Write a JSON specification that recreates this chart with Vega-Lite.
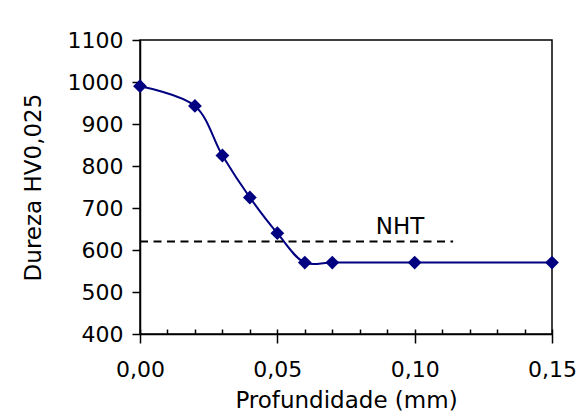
{
  "$schema": "https://vega.github.io/schema/vega-lite/v6.json",
  "width": 412,
  "height": 294,
  "autosize": {"type": "none"},
  "padding": {"left": 140, "top": 40, "right": 26, "bottom": 85},
  "background": "white",
  "config": {
    "font": "DejaVu Sans",
    "view": {"stroke": "black", "strokeWidth": 1.5},
    "axis": {
      "grid": false,
      "domainColor": "black",
      "domainWidth": 1.5,
      "tickColor": "black",
      "tickWidth": 1.5,
      "labelColor": "black",
      "titleColor": "black",
      "labelFont": "DejaVu Sans",
      "titleFont": "DejaVu Sans",
      "labelFontSize": 22,
      "titleFontSize": 23,
      "titleFontWeight": "normal"
    }
  },
  "datasets": {
    "hardness": [
      {"depth": 0.0, "hv": 990},
      {"depth": 0.02, "hv": 943},
      {"depth": 0.03, "hv": 825},
      {"depth": 0.04, "hv": 725},
      {"depth": 0.05, "hv": 640},
      {"depth": 0.06, "hv": 570},
      {"depth": 0.07, "hv": 570},
      {"depth": 0.10, "hv": 570},
      {"depth": 0.15, "hv": 570}
    ],
    "nht": [
      {"start": 0.0, "end": 0.114, "limit": 620, "label": "NHT"}
    ]
  },
  "layer": [
    {
      "data": {"name": "hardness"},
      "mark": {"type": "line", "interpolate": "catmull-rom", "color": "#000080", "strokeWidth": 2},
      "encoding": {
        "x": {
          "field": "depth", "type": "quantitative",
          "scale": {"domain": [0, 0.15], "nice": false, "zero": false},
          "axis": {
            "values": [0, 0.05, 0.1, 0.15],
            "labelExpr": "replace(format(datum.value, '.2f'), '.', ',')",
            "tickSize": 9,
            "labelPadding": 16,
            "labelFlush": false,
            "labelOverlap": false,
            "title": "Profundidade (mm)",
            "titlePadding": 9
          }
        },
        "y": {
          "field": "hv", "type": "quantitative",
          "scale": {"domain": [400, 1100], "nice": false, "zero": false},
          "axis": {
            "values": [400, 500, 600, 700, 800, 900, 1000, 1100],
            "format": "d",
            "tickSize": 8,
            "labelPadding": 9,
            "title": "Dureza HV0,025",
            "titlePadding": 22
          }
        }
      }
    },
    {
      "data": {"name": "hardness"},
      "mark": {"type": "point", "shape": "diamond", "filled": true, "size": 190, "color": "#000080", "opacity": 1},
      "encoding": {
        "x": {"field": "depth", "type": "quantitative", "axis": null},
        "y": {"field": "hv", "type": "quantitative"}
      }
    },
    {
      "data": {"name": "nht"},
      "mark": {"type": "rule", "color": "black", "strokeWidth": 2, "strokeDash": [8, 5.5]},
      "encoding": {
        "x": {
          "field": "start", "type": "quantitative",
          "axis": {
            "orient": "bottom",
            "values": [0, 0.01, 0.02, 0.03, 0.04, 0.05, 0.06, 0.07, 0.08, 0.09, 0.1, 0.11, 0.12, 0.13, 0.14, 0.15],
            "tickSize": -5,
            "labels": false,
            "domain": false,
            "title": null
          }
        },
        "x2": {"field": "end"},
        "y": {"field": "limit", "type": "quantitative"}
      }
    },
    {
      "data": {"name": "nht"},
      "mark": {"type": "text", "fontSize": 23, "font": "DejaVu Sans", "color": "black", "baseline": "alphabetic", "align": "center", "dy": -8},
      "encoding": {
        "x": {"datum": 0.0947, "type": "quantitative", "axis": null},
        "y": {"field": "limit", "type": "quantitative"},
        "text": {"field": "label"}
      }
    }
  ],
  "resolve": {"axis": {"x": "independent"}}
}
